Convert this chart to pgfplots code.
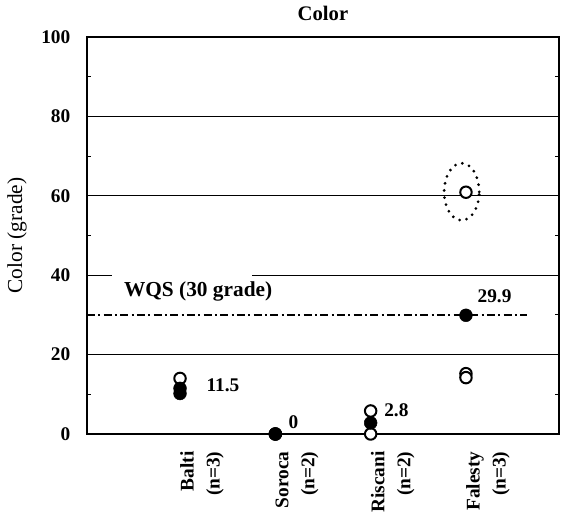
\documentclass[border=0pt]{standalone}
\usepackage{fontspec}
\setmainfont{Liberation Serif}
\usepackage{pgfplots}
\pgfplotsset{compat=1.18}
\begin{document}
\begin{tikzpicture}[x=1pt,y=1pt]
\useasboundingbox (-65.25,-64.5) rectangle (356.25,325.5);
\begin{axis}[
  scale only axis, width=354pt, height=297.75pt,
  at={(0,0)}, anchor=south west,
  xmin=-0.976, xmax=3.976, ymin=0, ymax=100,
  clip=false,
  ytick={0,20,...,100}, minor ytick={10,30,...,90},
  ymajorgrids, major grid style={black, line width=0.7pt},
  axis line style={black, line width=1.4pt},
  tick align=inside, major tick length=0pt, minor tick length=3pt,
  minor tick style={black, line width=0.6pt},
  /pgf/number format/assume math mode=true,
  yticklabel style={font=\fontsize{14.5}{16}\selectfont\bfseries, xshift=-9pt},
  xtick={0,1,2,3},
  xticklabels={{Balti\\(n=3)},{Soroca\\(n=2)},{Riscani\\(n=2)},{Falesty\\(n=3)}},
  xticklabel style={yshift=-13pt, rotate=90, anchor=north east, align=right, inner sep=0pt,
    font=\fontsize{14.5}{19.5}\selectfont\bfseries},
  title={Color},
  title style={font=\fontsize{15.5}{17}\selectfont\bfseries, yshift=3pt},
  ylabel={Color (grade)},
  ylabel style={font=\fontsize{16}{18}\selectfont, yshift=4pt},
]
\fill[white] (axis cs:-0.71,38.6) rectangle (axis cs:0.76,41.4);
\node[font=\fontsize{16}{18}\selectfont\bfseries] at (axis cs:0.19,35.9) {WQS (30 grade)};
\addplot[black, line width=1.5pt, dash pattern=on 6pt off 2.5pt on 1.5pt off 2.5pt] coordinates {(-0.976,30) (3.64,30)};
\draw[black, line width=2.3pt, line cap=round, dash pattern=on 0pt off 5.4pt] (axis cs:2.955,61) ellipse [x radius=0.184, y radius=7.2];
% individual samples (open)
\addplot[only marks, mark=*, mark size=4.3pt, mark options={fill=white, draw=black, line width=1.5pt}]
  coordinates {(0,14) (1,0) (1,0) (2,5.8) (2,0) (3,60.9) (3,15.2) (3,14.2)};
% means (filled)
\addplot[only marks, mark=*, mark size=4.8pt, mark options={fill=black, draw=black}]
  coordinates {(0,10.2) (0,11.5) (1,0) (2,2.8) (3,29.9)};
\node[font=\fontsize{14.5}{16}\selectfont\bfseries] at (axis cs:0.45,12.3) {11.5};
\node[font=\fontsize{14.5}{16}\selectfont\bfseries] at (axis cs:1.19,3.1) {0};
\node[font=\fontsize{14.5}{16}\selectfont\bfseries] at (axis cs:2.27,6.05) {2.8};
\node[font=\fontsize{14.5}{16}\selectfont\bfseries] at (axis cs:3.30,34.6) {29.9};
\end{axis}
\end{tikzpicture}
\end{document}
